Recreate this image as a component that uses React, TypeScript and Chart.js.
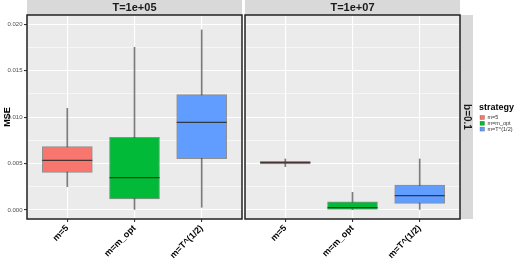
import React, { useEffect, useRef } from "react";
import { Chart, registerables } from "chart.js";

Chart.register(...registerables);

const categories = ["m=5", "m=m_opt", "m=T^(1/2)"];
const panelLabels = ["T=1e+05", "T=1e+07"];
const rowLabel = "b=0.1";
const yTitle = "MSE";
const legendTitle = "strategy";
const colors = ["#F8766D", "#00BA38", "#619CFF"];

// panel T=1e+05
const t5Low = [0.00251, 0.0, 0.00029];
const t5Q1 = [0.00406, 0.00119, 0.00553];
const t5Median = [0.00535, 0.00348, 0.00945];
const t5Q3 = [0.00682, 0.00783, 0.01243];
const t5High = [0.01096, 0.01753, 0.0194];

// panel T=1e+07
const t7Low = [0.00467, 0.0, 0.0];
const t7Q1 = [0.00496, 0.00007, 0.00072];
const t7Median = [0.0051, 0.00025, 0.00154];
const t7Q3 = [0.00525, 0.00089, 0.00269];
const t7High = [0.0055, 0.0019, 0.0055];

const yMajorTicks = [0, 0.005, 0.01, 0.015, 0.02];
const yMinorTicks = [0.0025, 0.0075, 0.0125, 0.0175];

const FONT = "'Liberation Sans', Arial, sans-serif";

const isMajor = (v: number) => yMajorTicks.some((m) => Math.abs(m - v) < 1e-9);

function makeConfig(
  panelIdx: number,
  low: number[],
  q1: number[],
  med: number[],
  q3: number[],
  high: number[],
  isLeft: boolean
): any {
  const panelPlugin = {
    id: "panel" + panelIdx,
    beforeDraw(chart: any) {
      const { ctx, chartArea: a } = chart;
      ctx.save();
      ctx.fillStyle = "#EBEBEB";
      ctx.fillRect(a.left, a.top, a.right - a.left, a.bottom - a.top);
      ctx.restore();
    },
    afterDraw(chart: any) {
      const { ctx, chartArea: a } = chart;
      ctx.save();
      // top strip
      ctx.fillStyle = "#D9D9D9";
      ctx.fillRect(a.left, 0, a.right - a.left, a.top);
      ctx.fillStyle = "#1A1A1A";
      ctx.font = `bold 11px ${FONT}`;
      ctx.textAlign = "center";
      ctx.textBaseline = "middle";
      ctx.fillText(panelLabels[panelIdx], (a.left + a.right) / 2, a.top / 2 + 0.5);
      if (!isLeft) {
        // right strip
        ctx.fillStyle = "#D9D9D9";
        ctx.fillRect(a.right, a.top, 13, a.bottom - a.top);
        ctx.save();
        ctx.translate(a.right + 6.5, (a.top + a.bottom) / 2);
        ctx.rotate(Math.PI / 2);
        ctx.fillStyle = "#1A1A1A";
        ctx.font = `bold 10px ${FONT}`;
        ctx.textAlign = "center";
        ctx.textBaseline = "middle";
        ctx.fillText(rowLabel, 0, 0);
        ctx.restore();
        // legend
        const lx = a.right + 20;
        ctx.fillStyle = "#000";
        ctx.font = `bold 9px ${FONT}`;
        ctx.textAlign = "left";
        ctx.textBaseline = "middle";
        ctx.fillText(legendTitle, lx - 1, 107.5);
        categories.forEach((c, i) => {
          const cy = 117.5 + i * 5.8;
          ctx.fillStyle = colors[i];
          ctx.fillRect(lx, cy - 2, 4.5, 4);
          ctx.strokeStyle = "rgba(51,51,51,0.5)";
          ctx.lineWidth = 0.5;
          ctx.strokeRect(lx, cy - 2, 4.5, 4);
          ctx.fillStyle = "#333";
          ctx.font = `5.5px ${FONT}`;
          ctx.fillText(c, lx + 7.5, cy + 0.3);
        });
      } else {
        ctx.save();
        ctx.translate(7.5, (a.top + a.bottom) / 2);
        ctx.rotate(-Math.PI / 2);
        ctx.fillStyle = "#000";
        ctx.font = `bold 9px ${FONT}`;
        ctx.textAlign = "center";
        ctx.textBaseline = "middle";
        ctx.fillText(yTitle, 0, 0);
        ctx.restore();
      }
      // panel border
      ctx.strokeStyle = "#222";
      ctx.lineWidth = 1.5;
      ctx.strokeRect(a.left, a.top, a.right - a.left, a.bottom - a.top);
      ctx.restore();
    },
  };

  return {
    type: "bar",
    data: {
      datasets: [
        {
          type: "scatter",
          data: categories.map((_, i) => ({ x: i + 1, y: med[i] })),
          pointStyle: "line",
          pointRadius: 25,
          pointHoverRadius: 25,
          pointHitRadius: 0,
          borderWidth: 1.2,
          borderColor: "rgba(40,40,40,0.85)",
          order: 0,
        },
        {
          type: "bar",
          data: categories.map((_, i) => ({ x: i + 1, y: [q1[i], q3[i]] })),
          backgroundColor: colors,
          borderColor: "rgba(51,51,51,0.5)",
          borderWidth: 1,
          borderSkipped: false,
          barThickness: 50,
          grouped: false,
          order: 1,
        },
        {
          type: "bar",
          data: categories.map((_, i) => ({ x: i + 1, y: [low[i], high[i]] })),
          backgroundColor: "rgba(70,70,70,0.7)",
          borderWidth: 0,
          barThickness: 1,
          grouped: false,
          order: 2,
        },
      ],
    },
    options: {
      animation: false,
      responsive: false,
      events: [],
      layout: {
        autoPadding: false,
        padding: { top: 15, left: 0, bottom: 0, right: isLeft ? 2 : 60 },
      },
      plugins: {
        legend: { display: false },
        tooltip: { enabled: false },
        title: { display: false },
      },
      scales: {
        x: {
          type: "linear",
          min: 0.4,
          max: 3.6,
          offset: false,
          afterBuildTicks: (s: any) => {
            s.ticks = categories.map((_, i) => ({ value: i + 1 }));
          },
          afterFit: (s: any) => {
            s.height = 41;
            s.paddingLeft = 0;
            s.paddingRight = 0;
          },
          ticks: {
            autoSkip: false,
            minRotation: 45,
            maxRotation: 45,
            padding: 1,
            color: "#000",
            font: { family: FONT, size: 9, weight: "bold" },
            callback: (v: any) => categories[Math.round(v) - 1] ?? "",
          },
          grid: {
            offset: false,
            color: "#FFFFFF",
            lineWidth: 1.1,
            tickColor: "#333",
            tickLength: 3,
            drawTicks: true,
          },
          border: { display: false },
        },
        y: {
          type: "linear",
          min: -0.00097,
          max: 0.02101,
          afterBuildTicks: (s: any) => {
            s.ticks = [...yMajorTicks, ...yMinorTicks]
              .sort((p, q) => p - q)
              .map((v) => ({ value: v }));
          },
          afterFit: (s: any) => {
            s.width = isLeft ? 27 : 1;
            s.paddingTop = 0;
            s.paddingBottom = 0;
          },
          ticks: {
            display: isLeft,
            padding: 1.5,
            color: "#4D4D4D",
            font: { family: FONT, size: 6 },
            callback: (v: any) => (isMajor(v) ? Number(v).toFixed(3) : ""),
          },
          grid: {
            color: "#FFFFFF",
            lineWidth: (c: any) => (c.tick && isMajor(c.tick.value) ? 1.1 : 0.55),
            tickColor: (c: any) =>
              c.tick && isMajor(c.tick.value) ? "#333" : "rgba(0,0,0,0)",
            tickLength: 3,
            drawTicks: isLeft,
          },
          border: { display: false },
        },
      },
    },
    plugins: [panelPlugin],
  };
}

export default function App() {
  const leftRef = useRef<HTMLCanvasElement>(null);
  const rightRef = useRef<HTMLCanvasElement>(null);

  useEffect(() => {
    const c1 = new Chart(
      leftRef.current as HTMLCanvasElement,
      makeConfig(0, t5Low, t5Q1, t5Median, t5Q3, t5High, true)
    );
    const c2 = new Chart(
      rightRef.current as HTMLCanvasElement,
      makeConfig(1, t7Low, t7Q1, t7Median, t7Q3, t7High, false)
    );
    return () => {
      c1.destroy();
      c2.destroy();
    };
  }, []);

  return (
    <div
      style={{
        position: "fixed",
        left: 0,
        top: 0,
        width: 520,
        height: 260,
        background: "#fff",
        overflow: "hidden",
      }}
    >
      <canvas
        ref={leftRef}
        width={244}
        height={260}
        style={{ position: "absolute", left: 0, top: 0, width: 244, height: 260 }}
      />
      <canvas
        ref={rightRef}
        width={276}
        height={260}
        style={{ position: "absolute", left: 244, top: 0, width: 276, height: 260 }}
      />
    </div>
  );
}
